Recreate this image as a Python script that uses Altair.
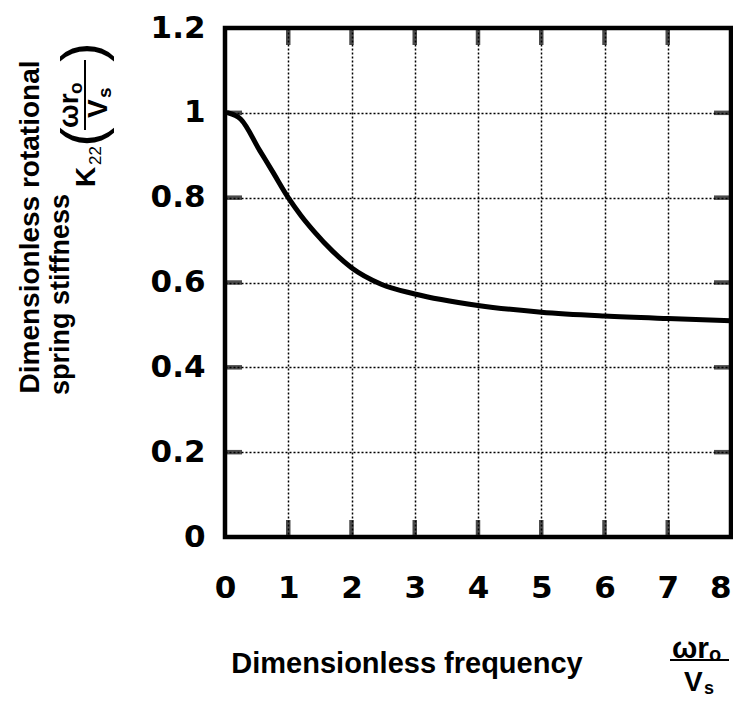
import altair as alt
import pandas as pd

# ---- data ----
freq = [0.05, 0.25, 0.55, 0.75, 1.0, 1.2, 1.41, 1.7, 2.0, 2.47, 3.0, 4.0, 5.0, 6.0, 7.0, 8.0]
k22 = [1.0, 0.985, 0.911, 0.862, 0.80, 0.758, 0.72, 0.674, 0.635, 0.596, 0.573, 0.546, 0.530, 0.521, 0.515, 0.510]
x_ticks = [0, 1, 2, 3, 4, 5, 6, 7, 8]
y_ticks = [0, 0.2, 0.4, 0.6, 0.8, 1.0, 1.2]
x_inner = [1, 2, 3, 4, 5, 6, 7]
y_inner = [0.2, 0.4, 0.6, 0.8, 1.0]

W, H = 506, 509
OX, OY = 225, 28          # page position of the plot origin
FONT = "Liberation Sans"
TICKFONT = "DejaVu Sans"

xs = alt.Scale(domain=[0, 8], nice=False, zero=False)
ys = alt.Scale(domain=[0, 1.2], nice=False)

curve_df = pd.DataFrame({"f": freq, "k": k22})
xt_df = pd.DataFrame({"f": x_inner})
yt_df = pd.DataFrame({"k": y_inner})
dummy = pd.DataFrame({"a": [0]})

curve = alt.Chart(curve_df).mark_line(
    color="black", strokeWidth=5, interpolate="monotone", strokeCap="round"
).encode(
    x=alt.X("f:Q", scale=xs,
            axis=alt.Axis(values=x_ticks, format="~g", title=None, grid=True,
                          labelPadding=36, labelFlush=False,
                          labelAlign=alt.condition("datum.value == 8",
                                                   alt.value("right"),
                                                   alt.value("center")))),
    y=alt.Y("k:Q", scale=ys,
            axis=alt.Axis(values=y_ticks, format="~g", title=None, grid=True,
                          labelPadding=20, labelFlush=False)),
)

tick_kw = dict(color="black", thickness=4.5, size=17)
bottom_ticks = alt.Chart(xt_df).mark_tick(**tick_kw).encode(
    x=alt.X("f:Q", scale=xs), y=alt.value(H - 8.5))
top_ticks = alt.Chart(xt_df).mark_tick(**tick_kw).encode(
    x=alt.X("f:Q", scale=xs), y=alt.value(8.5))
left_ticks = alt.Chart(yt_df).mark_tick(**tick_kw).encode(
    y=alt.Y("k:Q", scale=ys), x=alt.value(8.5))
right_ticks = alt.Chart(yt_df).mark_tick(**tick_kw).encode(
    y=alt.Y("k:Q", scale=ys), x=alt.value(W - 8.5))


def txt(s, x, y, size, angle=0, weight="bold", align="center"):
    kw = dict(text=s, font=FONT, fontSize=size, fontWeight=weight,
              align=align, baseline="middle", color="black")
    if angle:
        kw["angle"] = angle
    return alt.Chart(dummy).mark_text(**kw).encode(
        x=alt.value(x - OX), y=alt.value(y - OY))


def hrule(x1, x2, y, w=2):
    return alt.Chart(dummy).mark_rule(color="black", strokeWidth=w).encode(
        x=alt.value(x1 - OX), x2=alt.value(x2 - OX), y=alt.value(y - OY))


def vrule(x, y1, y2, w=2):
    return alt.Chart(dummy).mark_rule(color="black", strokeWidth=w).encode(
        x=alt.value(x - OX), y=alt.value(y1 - OY), y2=alt.value(y2 - OY))


annotations = [
    # x-axis title
    txt("Dimensionless frequency", 407, 664, 29),
    txt("ωr", 672, 649, 30, align="left"),
    txt("o", 709, 655, 20, align="left"),
    hrule(670, 729, 660),
    txt("V", 684, 683, 28, align="left"),
    txt("s", 704, 689, 18, align="left"),
    # y-axis title (rotated)
    txt("Dimensionless rotational", 31, 227, 28, angle=270),
    txt("spring stiffness", 61, 395, 27, angle=270, align="left"),
    txt("K", 87, 187, 28, angle=270, align="left"),
    txt("22", 96, 165, 17, angle=270, weight="normal", align="left"),
    txt("(", 85, 137, 58, angle=270, weight="normal"),
    txt("ωr", 70, 128, 28, angle=270, align="left"),
    txt("o", 76, 94, 19, angle=270, align="left"),
    vrule(85, 60, 130),
    txt("V", 99, 118, 28, angle=270, align="left"),
    txt("s", 105, 98, 19, angle=270, align="left"),
    txt(")", 85, 52, 58, angle=270, weight="normal"),
]

chart = alt.layer(
    curve, bottom_ticks, top_ticks, left_ticks, right_ticks, *annotations
).properties(
    width=W, height=H,
    autosize=alt.AutoSizeParams(type="none"),
    padding={"left": OX - 8, "top": OY - 8, "right": 725 - (OX - 8) - W, "bottom": 691 - (OY - 8) - H},
).configure_view(
    stroke="black", strokeWidth=4.5
).configure_axis(
    domain=False, ticks=False, tickSize=0,
    grid=True, gridColor="black", gridDash=[2, 2], gridWidth=1.5, gridOpacity=1,
    labelFont=TICKFONT, labelFontSize=31, labelFontWeight="bold", labelColor="black",
)

chart.save("out.html", embed_options={"renderer": "svg", "actions": False})
